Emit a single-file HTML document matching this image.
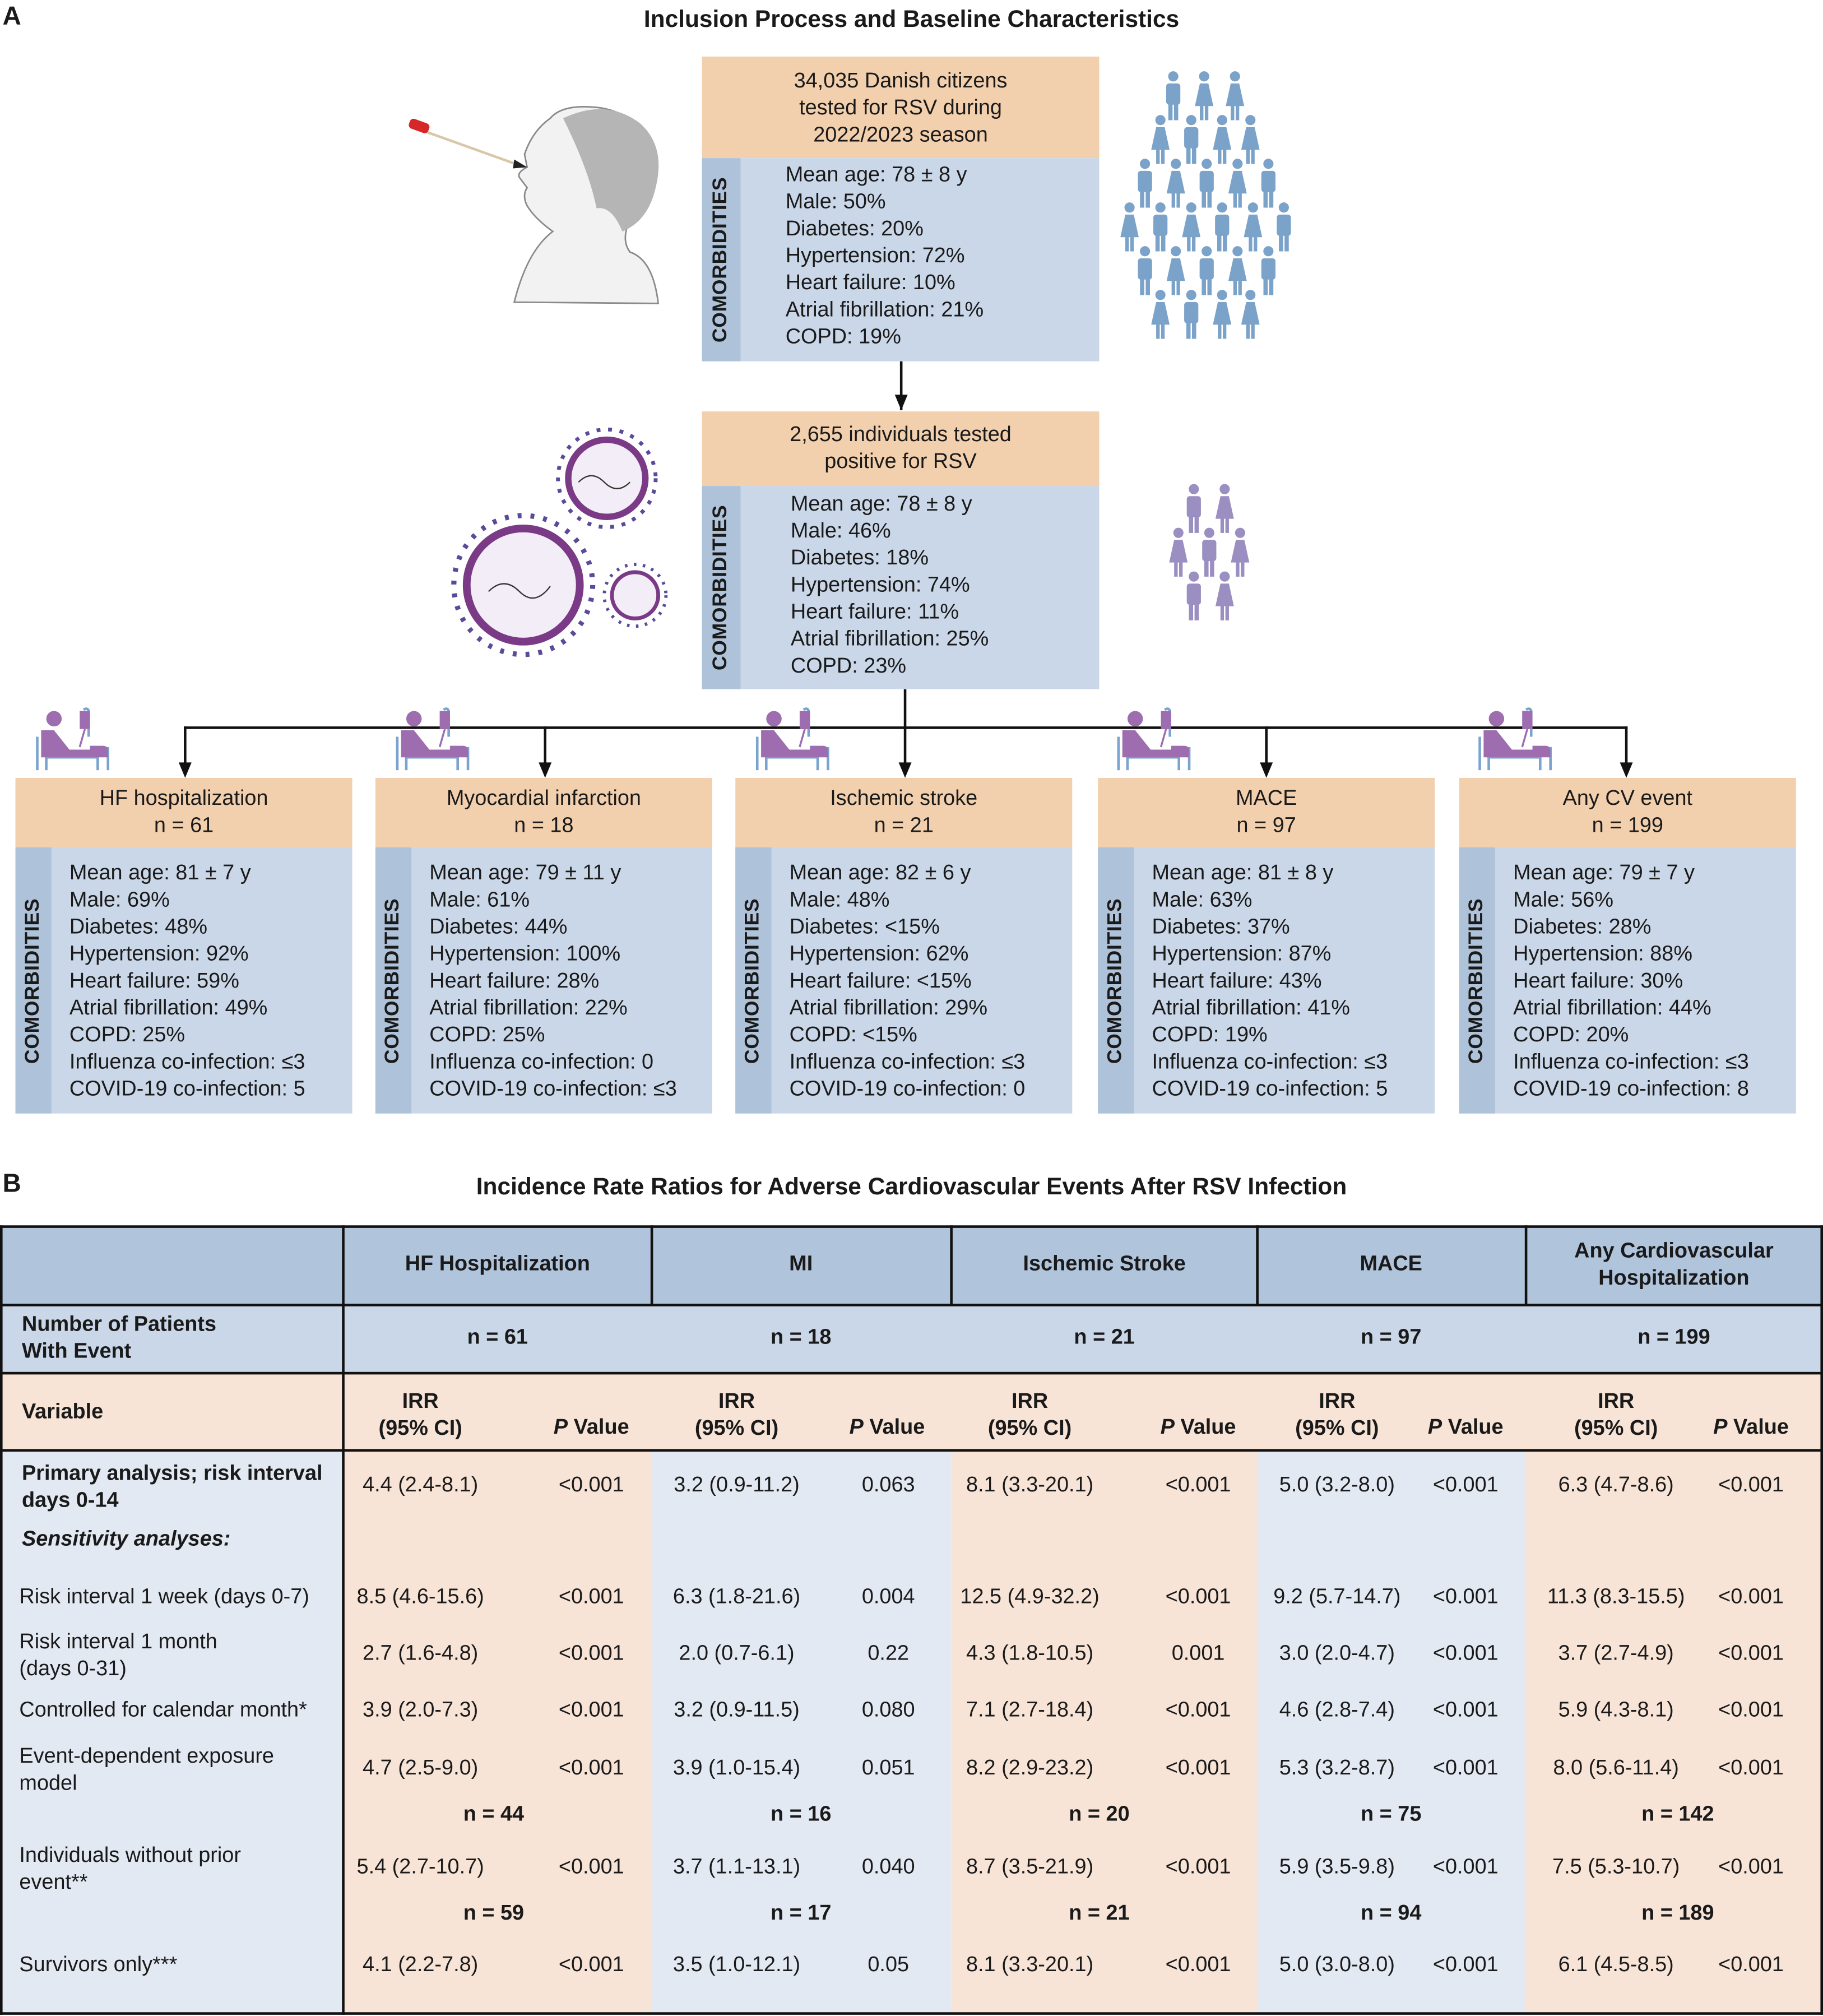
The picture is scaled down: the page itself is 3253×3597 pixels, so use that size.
<!DOCTYPE html>
<html><head><meta charset="utf-8"><style>
*{margin:0;padding:0;box-sizing:border-box}
body{width:3253px;height:3597px;background:#fff;overflow:hidden;font-family:"Liberation Sans",sans-serif;color:#1a1a1a}
#w{position:absolute;left:0;top:0;width:1418px;height:1568px;transform:scale(2.2941);transform-origin:0 0}
.a{position:absolute}
.c{position:absolute;transform:translateX(-50%);white-space:nowrap;text-align:center}
.hd{background:#f3d0ad;position:absolute;text-align:center;font-size:16.5px;line-height:21px}
.bd{background:#cad7e8;position:absolute}
.st{position:absolute;left:0;top:0;bottom:0;background:#aec2da}
.st span{position:absolute;left:50%;top:50%;transform:translate(-50%,-50%) rotate(-90deg);font-weight:bold;font-size:15.5px;letter-spacing:0.3px;white-space:nowrap}
.tx{position:absolute;font-size:16.5px;line-height:21px;white-space:nowrap}
.t{position:absolute;font-size:16.5px;white-space:nowrap}
.b{font-weight:bold}
.ln{position:absolute;background:#111}
</style></head><body><div id="w">
<svg class="a" style="left:0;top:0" width="1418" height="1568">
<defs>
<g id="m" transform="scale(1.1)"><circle cx="6" cy="4" r="3.6"/><rect x="1" y="9" width="10" height="15" rx="2"/><rect x="2.5" y="22" width="3" height="13"/><rect x="6.5" y="22" width="3" height="13"/></g>
<g id="f" transform="scale(1.1)"><circle cx="6" cy="4" r="3.6"/><path d="M3 9h6l3.5 16h-13z"/><rect x="3" y="24" width="2.5" height="11"/><rect x="6.5" y="24" width="2.5" height="11"/></g>
<g id="bed"><rect x="2" y="22" width="2" height="26" fill="#7aa3cf"/><rect x="57" y="30" width="2" height="18" fill="#7aa3cf"/><rect x="9" y="38" width="2" height="10" fill="#7aa3cf"/><rect x="49" y="38" width="2" height="10" fill="#7aa3cf"/><rect x="9" y="37" width="42" height="2" fill="#7aa3cf"/><path d="M39 1 q3 -2 4 1 v20" stroke="#7aa3cf" stroke-width="2" fill="none"/><circle cx="16" cy="8" r="6" fill="#9d6db0"/><rect x="36" y="2" width="8" height="14" fill="#9d6db0"/><path d="M40 16 l-4 14" stroke="#9d6db0" stroke-width="1.5"/><path d="M6 17 l10 0 l12 15 l16 0 l0 -3 l10 0 q4 0 4 4 l0 5 h-52z" fill="#9d6db0"/></g>
</defs>
<line x1="701" y1="281" x2="701" y2="319" stroke="#111" stroke-width="2"/><path d="M696 307h10l-5 12z" fill="#111"/>
<line x1="704" y1="536" x2="704" y2="566" stroke="#111" stroke-width="2"/>
<line x1="143" y1="566" x2="1266" y2="566" stroke="#111" stroke-width="2"/>
<g stroke="#111" stroke-width="2"><line x1="144" y1="565" x2="144" y2="596"/><line x1="424" y1="565" x2="424" y2="596"/><line x1="704" y1="565" x2="704" y2="596"/><line x1="985" y1="565" x2="985" y2="596"/><line x1="1265" y1="565" x2="1265" y2="596"/></g>
<g fill="#111"><path d="M139 593h10l-5 12z"/><path d="M419 593h10l-5 12z"/><path d="M699 593h10l-5 12z"/><path d="M980 593h10l-5 12z"/><path d="M1260 593h10l-5 12z"/></g>
<use href="#bed" x="26" y="551"/><use href="#bed" x="306" y="551"/><use href="#bed" x="586" y="551"/><use href="#bed" x="867" y="551"/><use href="#bed" x="1148" y="551"/>
<path d="M400 235 q10 -40 30 -55 q-14 -10 -20 -20 q-4 -8 0 -14 l-6 -8 q-2 -4 6 -8 l-2 -10 q6 -18 20 -28 q10 -12 40 -8 q34 6 38 42 q3 30 -18 50 q-4 12 2 20 q18 6 22 40z" fill="#f2f2f2" stroke="#8a8a8a" stroke-width="1.2"/>
<path d="M438 92 q34 -16 60 4 q20 18 12 50 q-6 26 -26 34 q-8 -20 -20 -18 q-6 -30 -26 -70z" fill="#b5b5b5"/>
<line x1="330" y1="102" x2="408" y2="130" stroke="#d9c8a8" stroke-width="2"/><path d="M400 124 l10 6 l-11 1z" fill="#222"/>
<rect x="318" y="94" width="16" height="8" rx="3" fill="#d62828" transform="rotate(20 326 98)"/>
<g fill="none"><circle cx="472" cy="372" r="30" fill="#f2edf6" stroke="#7a3a86" stroke-width="5"/><circle cx="472" cy="372" r="38" stroke="#5b4a9a" stroke-width="3" stroke-dasharray="3 6"/>
<circle cx="407" cy="455" r="44" fill="#f2edf6" stroke="#7a3a86" stroke-width="6"/><circle cx="407" cy="455" r="54" stroke="#5b4a9a" stroke-width="4" stroke-dasharray="3 7"/>
<circle cx="494" cy="463" r="18" fill="#f2edf6" stroke="#7a3a86" stroke-width="3"/><circle cx="494" cy="463" r="24" stroke="#5b4a9a" stroke-width="2.5" stroke-dasharray="2 5"/>
<path d="M450 375 q10 -10 20 0 t20 0" stroke="#333" stroke-width="1"/><path d="M380 460 q12 -12 24 0 t24 -4" stroke="#333" stroke-width="1"/></g>
<g fill="#7ba2c8">
<use href="#m" x="906" y="55"/><use href="#f" x="930" y="55"/><use href="#f" x="954" y="55"/>
<use href="#f" x="896" y="89"/><use href="#m" x="920" y="89"/><use href="#f" x="944" y="89"/><use href="#f" x="966" y="89"/>
<use href="#m" x="884" y="123"/><use href="#f" x="908" y="123"/><use href="#m" x="932" y="123"/><use href="#f" x="956" y="123"/><use href="#m" x="980" y="123"/>
<use href="#f" x="872" y="157"/><use href="#m" x="896" y="157"/><use href="#f" x="920" y="157"/><use href="#m" x="944" y="157"/><use href="#f" x="968" y="157"/><use href="#m" x="992" y="157"/>
<use href="#m" x="884" y="191"/><use href="#f" x="908" y="191"/><use href="#m" x="932" y="191"/><use href="#f" x="956" y="191"/><use href="#m" x="980" y="191"/>
<use href="#f" x="896" y="225"/><use href="#m" x="920" y="225"/><use href="#f" x="944" y="225"/><use href="#f" x="966" y="225"/>
</g>
<g fill="#9a8fc0">
<use href="#m" x="922" y="376"/><use href="#f" x="946" y="376"/>
<use href="#f" x="910" y="410"/><use href="#m" x="934" y="410"/><use href="#f" x="958" y="410"/>
<use href="#m" x="922" y="444"/><use href="#f" x="946" y="444"/>
</g>
</svg>

<div class="a b" style="left:2px;top:2px;font-size:20px">A</div>
<div class="c b" style="left:709px;top:4px;font-size:18.5px">Inclusion Process and Baseline Characteristics</div>

<div class="hd" style="left:546px;top:44px;width:309px;height:79px;padding-top:9px">34,035 Danish citizens<br>tested for RSV during<br>2022/2023 season</div>
<div class="bd" style="left:546px;top:123px;width:309px;height:158px"><div class="st" style="width:30px"><span>COMORBIDITIES</span></div>
<div class="tx" style="left:65px;top:3px">Mean age: 78 ± 8 y<br>Male: 50%<br>Diabetes: 20%<br>Hypertension: 72%<br>Heart failure: 10%<br>Atrial fibrillation: 21%<br>COPD: 19%</div></div>

<div class="hd" style="left:546px;top:320px;width:309px;height:58px;padding-top:8px">2,655 individuals tested<br>positive for RSV</div>
<div class="bd" style="left:546px;top:378px;width:309px;height:158px"><div class="st" style="width:30px"><span>COMORBIDITIES</span></div>
<div class="tx" style="left:69px;top:4px">Mean age: 78 ± 8 y<br>Male: 46%<br>Diabetes: 18%<br>Hypertension: 74%<br>Heart failure: 11%<br>Atrial fibrillation: 25%<br>COPD: 23%</div></div>

<div class="hd" style="left:12px;top:605px;width:262px;height:54px;padding-top:6px">HF hospitalization<br>n = 61</div>
<div class="bd" style="left:12px;top:659px;width:262px;height:207px"><div class="st" style="width:28px"><span>COMORBIDITIES</span></div>
<div class="tx" style="left:42px;top:10px">Mean age: 81 ± 7 y<br>Male: 69%<br>Diabetes: 48%<br>Hypertension: 92%<br>Heart failure: 59%<br>Atrial fibrillation: 49%<br>COPD: 25%<br>Influenza co-infection: ≤3<br>COVID-19 co-infection: 5</div></div>

<div class="hd" style="left:292px;top:605px;width:262px;height:54px;padding-top:6px">Myocardial infarction<br>n = 18</div>
<div class="bd" style="left:292px;top:659px;width:262px;height:207px"><div class="st" style="width:28px"><span>COMORBIDITIES</span></div>
<div class="tx" style="left:42px;top:10px">Mean age: 79 ± 11 y<br>Male: 61%<br>Diabetes: 44%<br>Hypertension: 100%<br>Heart failure: 28%<br>Atrial fibrillation: 22%<br>COPD: 25%<br>Influenza co-infection: 0<br>COVID-19 co-infection: ≤3</div></div>

<div class="hd" style="left:572px;top:605px;width:262px;height:54px;padding-top:6px">Ischemic stroke<br>n = 21</div>
<div class="bd" style="left:572px;top:659px;width:262px;height:207px"><div class="st" style="width:28px"><span>COMORBIDITIES</span></div>
<div class="tx" style="left:42px;top:10px">Mean age: 82 ± 6 y<br>Male: 48%<br>Diabetes: &lt;15%<br>Hypertension: 62%<br>Heart failure: &lt;15%<br>Atrial fibrillation: 29%<br>COPD: &lt;15%<br>Influenza co-infection: ≤3<br>COVID-19 co-infection: 0</div></div>

<div class="hd" style="left:854px;top:605px;width:262px;height:54px;padding-top:6px">MACE<br>n = 97</div>
<div class="bd" style="left:854px;top:659px;width:262px;height:207px"><div class="st" style="width:28px"><span>COMORBIDITIES</span></div>
<div class="tx" style="left:42px;top:10px">Mean age: 81 ± 8 y<br>Male: 63%<br>Diabetes: 37%<br>Hypertension: 87%<br>Heart failure: 43%<br>Atrial fibrillation: 41%<br>COPD: 19%<br>Influenza co-infection: ≤3<br>COVID-19 co-infection: 5</div></div>

<div class="hd" style="left:1135px;top:605px;width:262px;height:54px;padding-top:6px">Any CV event<br>n = 199</div>
<div class="bd" style="left:1135px;top:659px;width:262px;height:207px"><div class="st" style="width:28px"><span>COMORBIDITIES</span></div>
<div class="tx" style="left:42px;top:10px">Mean age: 79 ± 7 y<br>Male: 56%<br>Diabetes: 28%<br>Hypertension: 88%<br>Heart failure: 30%<br>Atrial fibrillation: 44%<br>COPD: 20%<br>Influenza co-infection: ≤3<br>COVID-19 co-infection: 8</div></div>

<div class="a b" style="left:2px;top:910px;font-size:20px">B</div>
<div class="c b" style="left:709px;top:912px;font-size:18.5px">Incidence Rate Ratios for Adverse Cardiovascular Events After RSV Infection</div>

<div class="a" style="left:0;top:954px;width:1418px;height:61px;background:#b0c4dc"></div>
<div class="a" style="left:0;top:1015px;width:1418px;height:53px;background:#cad7e8"></div>
<div class="a" style="left:0;top:1068px;width:1418px;height:60px;background:#f8e4d6"></div>
<div class="a" style="left:0;top:1128px;width:267px;height:438px;background:#e3e9f3"></div>
<div class="a" style="left:267px;top:1128px;width:240px;height:438px;background:#f8e4d6"></div>
<div class="a" style="left:507px;top:1128px;width:233px;height:438px;background:#e3e9f3"></div>
<div class="a" style="left:740px;top:1128px;width:238px;height:438px;background:#f8e4d6"></div>
<div class="a" style="left:978px;top:1128px;width:209px;height:438px;background:#e3e9f3"></div>
<div class="a" style="left:1187px;top:1128px;width:231px;height:438px;background:#f8e4d6"></div>

<div class="ln" style="left:0;top:953px;width:1418px;height:2px"></div>
<div class="ln" style="left:0;top:1014px;width:1418px;height:2px"></div>
<div class="ln" style="left:0;top:1067px;width:1418px;height:2px"></div>
<div class="ln" style="left:0;top:1127px;width:1418px;height:2px"></div>
<div class="ln" style="left:0;top:1565px;width:1418px;height:2px"></div>
<div class="ln" style="left:0;top:953px;width:2px;height:614px"></div>
<div class="ln" style="left:1416px;top:953px;width:2px;height:614px"></div>
<div class="ln" style="left:266px;top:953px;width:2px;height:614px"></div>
<div class="ln" style="left:506px;top:953px;width:1.5px;height:62px"></div>
<div class="ln" style="left:739px;top:953px;width:1.5px;height:62px"></div>
<div class="ln" style="left:977px;top:953px;width:1.5px;height:62px"></div>
<div class="ln" style="left:1186px;top:953px;width:1.5px;height:62px"></div>

<div class="c b" style="left:387px;top:974px;font-size:16.5px">HF Hospitalization</div>
<div class="c b" style="left:623px;top:974px;font-size:16.5px">MI</div>
<div class="c b" style="left:859px;top:974px;font-size:16.5px">Ischemic Stroke</div>
<div class="c b" style="left:1082px;top:974px;font-size:16.5px">MACE</div>
<div class="c b" style="left:1302px;top:963px;font-size:16.5px;line-height:21px">Any Cardiovascular<br>Hospitalization</div>

<div class="t b" style="left:17px;top:1020px;line-height:21px">Number of Patients<br>With Event</div>
<div class="c b" style="left:387px;top:1031px;font-size:16.5px">n = 61</div>
<div class="c b" style="left:623px;top:1031px;font-size:16.5px">n = 18</div>
<div class="c b" style="left:859px;top:1031px;font-size:16.5px">n = 21</div>
<div class="c b" style="left:1082px;top:1031px;font-size:16.5px">n = 97</div>
<div class="c b" style="left:1302px;top:1031px;font-size:16.5px">n = 199</div>

<div class="t b" style="left:17px;top:1089px">Variable</div>
<div class="c b" style="left:327px;top:1080px;font-size:16.5px;line-height:21px">IRR<br>(95% CI)</div><div class="c b" style="left:460px;top:1101px;font-size:16.5px"><i>P</i> Value</div>
<div class="c b" style="left:573px;top:1080px;font-size:16.5px;line-height:21px">IRR<br>(95% CI)</div><div class="c b" style="left:690px;top:1101px;font-size:16.5px"><i>P</i> Value</div>
<div class="c b" style="left:801px;top:1080px;font-size:16.5px;line-height:21px">IRR<br>(95% CI)</div><div class="c b" style="left:932px;top:1101px;font-size:16.5px"><i>P</i> Value</div>
<div class="c b" style="left:1040px;top:1080px;font-size:16.5px;line-height:21px">IRR<br>(95% CI)</div><div class="c b" style="left:1140px;top:1101px;font-size:16.5px"><i>P</i> Value</div>
<div class="c b" style="left:1257px;top:1080px;font-size:16.5px;line-height:21px">IRR<br>(95% CI)</div><div class="c b" style="left:1362px;top:1101px;font-size:16.5px"><i>P</i> Value</div>

<div class="t b" style="left:17px;top:1136px;line-height:21px">Primary analysis; risk interval<br>days 0-14</div>
<div class="t b" style="left:17px;top:1188px"><i>Sensitivity analyses:</i></div>
<div class="t" style="left:15px;top:1233px">Risk interval 1 week (days 0-7)</div>
<div class="t" style="left:15px;top:1267px;line-height:21px">Risk interval 1 month<br>(days 0-31)</div>
<div class="t" style="left:15px;top:1321px">Controlled for calendar month*</div>
<div class="t" style="left:15px;top:1356px;line-height:21px">Event-dependent exposure<br>model</div>
<div class="t" style="left:15px;top:1433px;line-height:21px">Individuals without prior<br>event**</div>
<div class="t" style="left:15px;top:1519px">Survivors only***</div>

<div class="c" style="left:327px;top:1146px;font-size:16.5px">4.4 (2.4-8.1)</div><div class="c" style="left:460px;top:1146px;font-size:16.5px">&lt;0.001</div>
<div class="c" style="left:573px;top:1146px;font-size:16.5px">3.2 (0.9-11.2)</div><div class="c" style="left:691px;top:1146px;font-size:16.5px">0.063</div>
<div class="c" style="left:801px;top:1146px;font-size:16.5px">8.1 (3.3-20.1)</div><div class="c" style="left:932px;top:1146px;font-size:16.5px">&lt;0.001</div>
<div class="c" style="left:1040px;top:1146px;font-size:16.5px">5.0 (3.2-8.0)</div><div class="c" style="left:1140px;top:1146px;font-size:16.5px">&lt;0.001</div>
<div class="c" style="left:1257px;top:1146px;font-size:16.5px">6.3 (4.7-8.6)</div><div class="c" style="left:1362px;top:1146px;font-size:16.5px">&lt;0.001</div>

<div class="c" style="left:327px;top:1233px;font-size:16.5px">8.5 (4.6-15.6)</div><div class="c" style="left:460px;top:1233px;font-size:16.5px">&lt;0.001</div>
<div class="c" style="left:573px;top:1233px;font-size:16.5px">6.3 (1.8-21.6)</div><div class="c" style="left:691px;top:1233px;font-size:16.5px">0.004</div>
<div class="c" style="left:801px;top:1233px;font-size:16.5px">12.5 (4.9-32.2)</div><div class="c" style="left:932px;top:1233px;font-size:16.5px">&lt;0.001</div>
<div class="c" style="left:1040px;top:1233px;font-size:16.5px">9.2 (5.7-14.7)</div><div class="c" style="left:1140px;top:1233px;font-size:16.5px">&lt;0.001</div>
<div class="c" style="left:1257px;top:1233px;font-size:16.5px">11.3 (8.3-15.5)</div><div class="c" style="left:1362px;top:1233px;font-size:16.5px">&lt;0.001</div>

<div class="c" style="left:327px;top:1277px;font-size:16.5px">2.7 (1.6-4.8)</div><div class="c" style="left:460px;top:1277px;font-size:16.5px">&lt;0.001</div>
<div class="c" style="left:573px;top:1277px;font-size:16.5px">2.0 (0.7-6.1)</div><div class="c" style="left:691px;top:1277px;font-size:16.5px">0.22</div>
<div class="c" style="left:801px;top:1277px;font-size:16.5px">4.3 (1.8-10.5)</div><div class="c" style="left:932px;top:1277px;font-size:16.5px">0.001</div>
<div class="c" style="left:1040px;top:1277px;font-size:16.5px">3.0 (2.0-4.7)</div><div class="c" style="left:1140px;top:1277px;font-size:16.5px">&lt;0.001</div>
<div class="c" style="left:1257px;top:1277px;font-size:16.5px">3.7 (2.7-4.9)</div><div class="c" style="left:1362px;top:1277px;font-size:16.5px">&lt;0.001</div>

<div class="c" style="left:327px;top:1321px;font-size:16.5px">3.9 (2.0-7.3)</div><div class="c" style="left:460px;top:1321px;font-size:16.5px">&lt;0.001</div>
<div class="c" style="left:573px;top:1321px;font-size:16.5px">3.2 (0.9-11.5)</div><div class="c" style="left:691px;top:1321px;font-size:16.5px">0.080</div>
<div class="c" style="left:801px;top:1321px;font-size:16.5px">7.1 (2.7-18.4)</div><div class="c" style="left:932px;top:1321px;font-size:16.5px">&lt;0.001</div>
<div class="c" style="left:1040px;top:1321px;font-size:16.5px">4.6 (2.8-7.4)</div><div class="c" style="left:1140px;top:1321px;font-size:16.5px">&lt;0.001</div>
<div class="c" style="left:1257px;top:1321px;font-size:16.5px">5.9 (4.3-8.1)</div><div class="c" style="left:1362px;top:1321px;font-size:16.5px">&lt;0.001</div>

<div class="c" style="left:327px;top:1366px;font-size:16.5px">4.7 (2.5-9.0)</div><div class="c" style="left:460px;top:1366px;font-size:16.5px">&lt;0.001</div>
<div class="c" style="left:573px;top:1366px;font-size:16.5px">3.9 (1.0-15.4)</div><div class="c" style="left:691px;top:1366px;font-size:16.5px">0.051</div>
<div class="c" style="left:801px;top:1366px;font-size:16.5px">8.2 (2.9-23.2)</div><div class="c" style="left:932px;top:1366px;font-size:16.5px">&lt;0.001</div>
<div class="c" style="left:1040px;top:1366px;font-size:16.5px">5.3 (3.2-8.7)</div><div class="c" style="left:1140px;top:1366px;font-size:16.5px">&lt;0.001</div>
<div class="c" style="left:1257px;top:1366px;font-size:16.5px">8.0 (5.6-11.4)</div><div class="c" style="left:1362px;top:1366px;font-size:16.5px">&lt;0.001</div>

<div class="c b" style="left:384px;top:1402px;font-size:16.5px">n = 44</div>
<div class="c b" style="left:623px;top:1402px;font-size:16.5px">n = 16</div>
<div class="c b" style="left:855px;top:1402px;font-size:16.5px">n = 20</div>
<div class="c b" style="left:1082px;top:1402px;font-size:16.5px">n = 75</div>
<div class="c b" style="left:1305px;top:1402px;font-size:16.5px">n = 142</div>

<div class="c" style="left:327px;top:1443px;font-size:16.5px">5.4 (2.7-10.7)</div><div class="c" style="left:460px;top:1443px;font-size:16.5px">&lt;0.001</div>
<div class="c" style="left:573px;top:1443px;font-size:16.5px">3.7 (1.1-13.1)</div><div class="c" style="left:691px;top:1443px;font-size:16.5px">0.040</div>
<div class="c" style="left:801px;top:1443px;font-size:16.5px">8.7 (3.5-21.9)</div><div class="c" style="left:932px;top:1443px;font-size:16.5px">&lt;0.001</div>
<div class="c" style="left:1040px;top:1443px;font-size:16.5px">5.9 (3.5-9.8)</div><div class="c" style="left:1140px;top:1443px;font-size:16.5px">&lt;0.001</div>
<div class="c" style="left:1257px;top:1443px;font-size:16.5px">7.5 (5.3-10.7)</div><div class="c" style="left:1362px;top:1443px;font-size:16.5px">&lt;0.001</div>

<div class="c b" style="left:384px;top:1479px;font-size:16.5px">n = 59</div>
<div class="c b" style="left:623px;top:1479px;font-size:16.5px">n = 17</div>
<div class="c b" style="left:855px;top:1479px;font-size:16.5px">n = 21</div>
<div class="c b" style="left:1082px;top:1479px;font-size:16.5px">n = 94</div>
<div class="c b" style="left:1305px;top:1479px;font-size:16.5px">n = 189</div>

<div class="c" style="left:327px;top:1519px;font-size:16.5px">4.1 (2.2-7.8)</div><div class="c" style="left:460px;top:1519px;font-size:16.5px">&lt;0.001</div>
<div class="c" style="left:573px;top:1519px;font-size:16.5px">3.5 (1.0-12.1)</div><div class="c" style="left:691px;top:1519px;font-size:16.5px">0.05</div>
<div class="c" style="left:801px;top:1519px;font-size:16.5px">8.1 (3.3-20.1)</div><div class="c" style="left:932px;top:1519px;font-size:16.5px">&lt;0.001</div>
<div class="c" style="left:1040px;top:1519px;font-size:16.5px">5.0 (3.0-8.0)</div><div class="c" style="left:1140px;top:1519px;font-size:16.5px">&lt;0.001</div>
<div class="c" style="left:1257px;top:1519px;font-size:16.5px">6.1 (4.5-8.5)</div><div class="c" style="left:1362px;top:1519px;font-size:16.5px">&lt;0.001</div>
</div></body></html>
